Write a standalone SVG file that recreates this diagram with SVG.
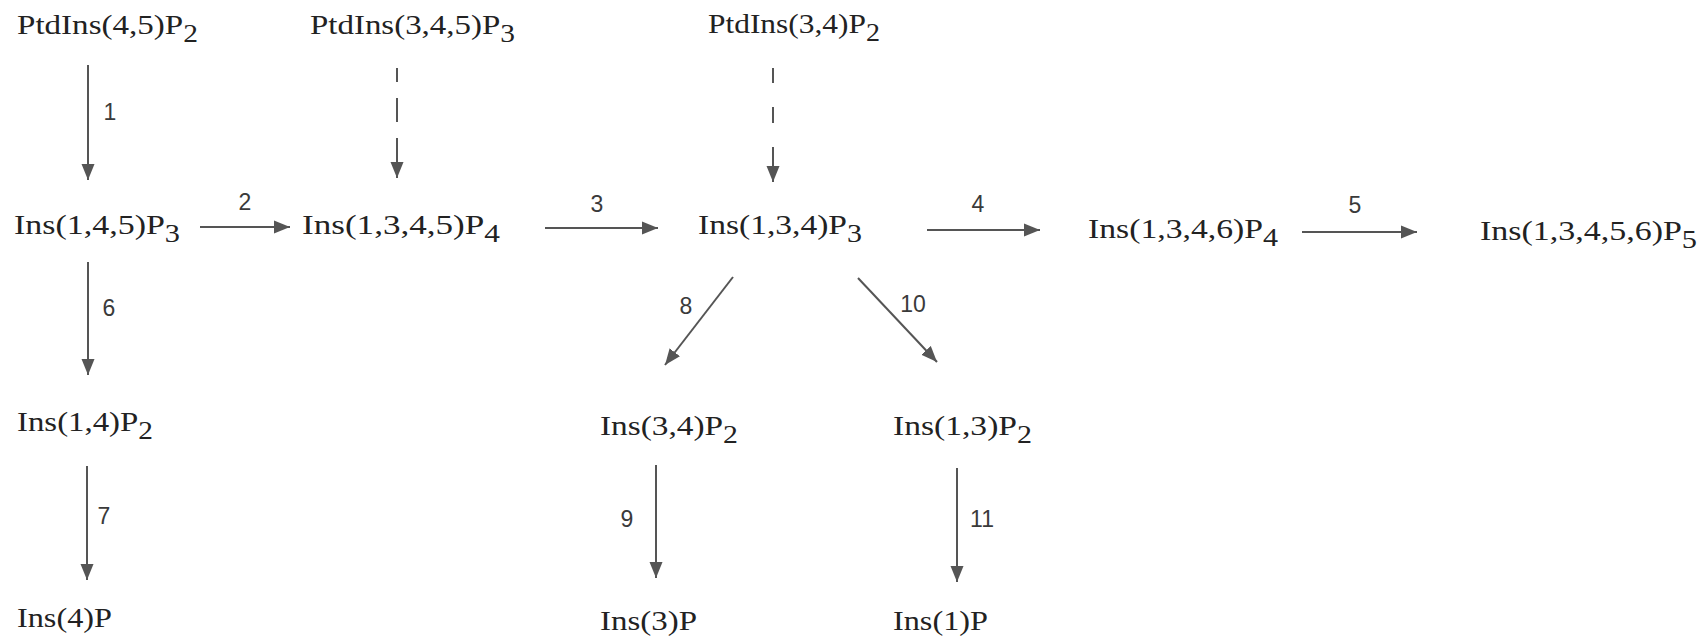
<svg xmlns="http://www.w3.org/2000/svg" width="1706" height="638" viewBox="0 0 1706 638">
<defs>
<style>
.n{font-family:"Liberation Serif","Times New Roman",serif;font-size:28px;fill:#222}
.s{font-size:25px}
.l{font-family:"Liberation Sans",Arial,sans-serif;font-size:23px;fill:#3a3a3a;text-anchor:middle}
.c{stroke:#555;stroke-width:2;fill:none;marker-end:url(#ah)}
</style>
<marker id="ah" markerUnits="userSpaceOnUse" markerWidth="18" markerHeight="14" refX="16" refY="7" orient="auto">
<path d="M0,0.5 L16,7 L0,13.5 z" fill="#555"/>
</marker>
</defs>
<rect width="1706" height="638" fill="#ffffff"/>

<g id="n1"><text class="n" x="17" y="34" textLength="181" lengthAdjust="spacingAndGlyphs">PtdIns(4,5)P<tspan class="s" dy="8">2</tspan></text></g>
<g id="n2"><text class="n" x="310" y="34" textLength="205" lengthAdjust="spacingAndGlyphs">PtdIns(3,4,5)P<tspan class="s" dy="8">3</tspan></text></g>
<g id="n3"><text class="n" x="708" y="33" textLength="172" lengthAdjust="spacingAndGlyphs">PtdIns(3,4)P<tspan class="s" dy="8">2</tspan></text></g>
<g id="n4"><text class="n" x="14" y="234" textLength="166" lengthAdjust="spacingAndGlyphs">Ins(1,4,5)P<tspan class="s" dy="8">3</tspan></text></g>
<g id="n5"><text class="n" x="302" y="234" textLength="198" lengthAdjust="spacingAndGlyphs">Ins(1,3,4,5)P<tspan class="s" dy="8">4</tspan></text></g>
<g id="n6"><text class="n" x="698" y="234" textLength="164" lengthAdjust="spacingAndGlyphs">Ins(1,3,4)P<tspan class="s" dy="8">3</tspan></text></g>
<g id="n7"><text class="n" x="1088" y="238" textLength="190" lengthAdjust="spacingAndGlyphs">Ins(1,3,4,6)P<tspan class="s" dy="8">4</tspan></text></g>
<g id="n8"><text class="n" x="1480" y="240" textLength="217" lengthAdjust="spacingAndGlyphs">Ins(1,3,4,5,6)P<tspan class="s" dy="8">5</tspan></text></g>
<g id="n9"><text class="n" x="17" y="431" textLength="136" lengthAdjust="spacingAndGlyphs">Ins(1,4)P<tspan class="s" dy="8">2</tspan></text></g>
<g id="n10"><text class="n" x="600" y="435" textLength="138" lengthAdjust="spacingAndGlyphs">Ins(3,4)P<tspan class="s" dy="8">2</tspan></text></g>
<g id="n11"><text class="n" x="893" y="435" textLength="139" lengthAdjust="spacingAndGlyphs">Ins(1,3)P<tspan class="s" dy="8">2</tspan></text></g>
<g id="n12"><text class="n" x="17" y="627" textLength="95" lengthAdjust="spacingAndGlyphs">Ins(4)P</text></g>
<g id="n13"><text class="n" x="600" y="630" textLength="97" lengthAdjust="spacingAndGlyphs">Ins(3)P</text></g>
<g id="n14"><text class="n" x="893" y="630" textLength="95" lengthAdjust="spacingAndGlyphs">Ins(1)P</text></g>

<g id="connectors">
<line class="c" x1="88" y1="65" x2="88" y2="180"/>
<text class="l" x="110" y="120">1</text>
<path class="c" d="M397,68 V82 M397,98 V122 M397,138 V178"/>
<path class="c" d="M773,68 V83 M773,107 V123 M773,147 V182"/>
<line class="c" x1="200" y1="227" x2="290" y2="227"/>
<text class="l" x="245" y="210">2</text>
<line class="c" x1="545" y1="228" x2="658" y2="228"/>
<text class="l" x="597" y="212">3</text>
<line class="c" x1="927" y1="230" x2="1040" y2="230"/>
<text class="l" x="978" y="212">4</text>
<line class="c" x1="1302" y1="232" x2="1417" y2="232"/>
<text class="l" x="1355" y="213">5</text>
<line class="c" x1="88" y1="262" x2="88" y2="375"/>
<text class="l" x="109" y="316">6</text>
<line class="c" x1="87" y1="466" x2="87" y2="580"/>
<text class="l" x="104" y="524">7</text>
<line class="c" x1="733" y1="277" x2="665" y2="365"/>
<text class="l" x="686" y="314">8</text>
<line class="c" x1="656" y1="465" x2="656" y2="578"/>
<text class="l" x="627" y="527">9</text>
<line class="c" x1="858" y1="278" x2="937" y2="362"/>
<text class="l" x="913" y="312">10</text>
<line class="c" x1="957" y1="468" x2="957" y2="582"/>
<text class="l" x="982" y="527">11</text>
</g>
</svg>
